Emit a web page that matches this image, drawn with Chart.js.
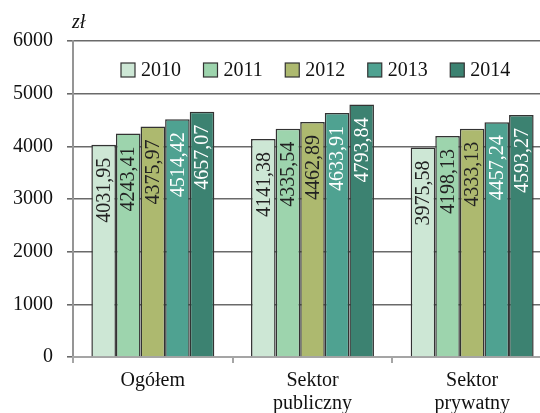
<!DOCTYPE html>
<html>
<head>
<meta charset="utf-8">
<script src="https://cdn.jsdelivr.net/npm/chart.js@4.4.1/dist/chart.umd.min.js"></script>
<style>
	html, body { margin: 0; padding: 0; background: #fff; overflow: hidden; }
	#wrap { width: 552px; height: 413px; }
</style>
</head>
<body>
<div id="wrap"><canvas id="chart" width="552" height="413"></canvas></div>
<script>
// values (wages, zł)
const categories = [['Ogółem'], ['Sektor', 'publiczny'], ['Sektor', 'prywatny']];
const years = ['2010', '2011', '2012', '2013', '2014'];
const v2010 = [4031.95, 4141.38, 3975.58];
const v2011 = [4243.41, 4335.54, 4198.13];
const v2012 = [4375.97, 4462.89, 4333.13];
const v2013 = [4514.42, 4633.91, 4457.24];
const v2014 = [4657.07, 4793.84, 4593.27];
const yTicks = [0, 1000, 2000, 3000, 4000, 5000, 6000];

const fills = ['#cde7d5', '#9dd4ad', '#adb96f', '#4fa291', '#3c8271'];
const labelColors = ['#222', '#222', '#222', '#fff', '#fff'];
const serif = '"Liberation Serif", "DejaVu Serif", serif';

const series = [v2010, v2011, v2012, v2013, v2014];

function fmt(v)
{
	return v.toFixed(2).replace('.', ',');
}

// rotated value labels inside the top of each bar
const barLabels = {
	id: 'barLabels',
	afterDatasetsDraw(chart) {
		let ctx = chart.ctx;
		ctx.save();
		ctx.font = '20px ' + serif;
		ctx.textAlign = 'right';
		ctx.textBaseline = 'middle';
		chart.data.datasets.forEach(function(ds, i) {
			chart.getDatasetMeta(i).data.forEach(function(bar, j) {
				ctx.save();
				ctx.translate(bar.x + 1, bar.y + 13);
				ctx.rotate(-Math.PI / 2);
				ctx.fillStyle = labelColors[i];
				ctx.fillText(fmt(ds.data[j]), 0, 0);
				ctx.restore();
			});
		});
		ctx.restore();
	}
};

// legend inside the plot plus the unit above the axis
const extras = {
	id: 'extras',
	afterDraw(chart) {
		let ctx = chart.ctx;
		ctx.save();
		ctx.font = 'italic 20px ' + serif;
		ctx.fillStyle = '#111';
		ctx.textBaseline = 'alphabetic';
		ctx.fillText('zł', 72, 28);

		ctx.font = '20px ' + serif;
		ctx.textBaseline = 'middle';
		let x = 121;
		let y = 70;
		chart.data.datasets.forEach(function(ds, i) {
			ctx.fillStyle = fills[i];
			ctx.fillRect(x, y - 7, 14, 14);
			ctx.strokeStyle = '#333';
			ctx.lineWidth = 1.2;
			ctx.strokeRect(x, y - 7, 14, 14);
			ctx.fillStyle = '#111';
			ctx.fillText(ds.label, x + 20, y + 1);
			x += 20 + ctx.measureText(ds.label).width + 22.5;
		});
		ctx.restore();
	}
};

new Chart(document.getElementById('chart').getContext('2d'), {
	type: 'bar',
	data: {
		labels: categories,
		datasets: years.map((y, i) => ({
			label: y,
			data: series[i],
			backgroundColor: fills[i],
			borderColor: '#333',
			borderWidth: 1.5,
			categoryPercentage: 0.77,
			barPercentage: 1.0,
		})),
	},
	options: {
		responsive: false,
		animation: false,
		events: [],
		layout: { padding: { top: 41, left: 0, right: 0, bottom: 0 } },
		plugins: {
			legend: { display: false },
			tooltip: { enabled: false },
		},
		scales: {
			y: {
				min: 0,
				max: 6000,
				afterBuildTicks: (s) => { s.ticks = yTicks.map(v => ({ value: v })); },
				afterFit: (s) => { s.width = 73; },
				grid: { color: '#6a6a6a', lineWidth: 1.6, tickLength: 6 },
				border: { color: '#959595', width: 2 },
				ticks: { color: '#111', font: { family: serif, size: 20 }, padding: 14, callback: (v) => String(v) },
			},
			x: {
				afterFit: (s) => { s.height = 56; },
				grid: { drawOnChartArea: false, drawTicks: true, tickLength: 6, color: '#a5a5a5', lineWidth: 2 },
				border: { color: '#a5a5a5', width: 2 },
				ticks: { color: '#111', font: { family: serif, size: 20, lineHeight: 1.15 }, padding: 6, maxRotation: 0 },
			},
		},
	},
	plugins: [barLabels, extras],
});
</script>
</body>
</html>
